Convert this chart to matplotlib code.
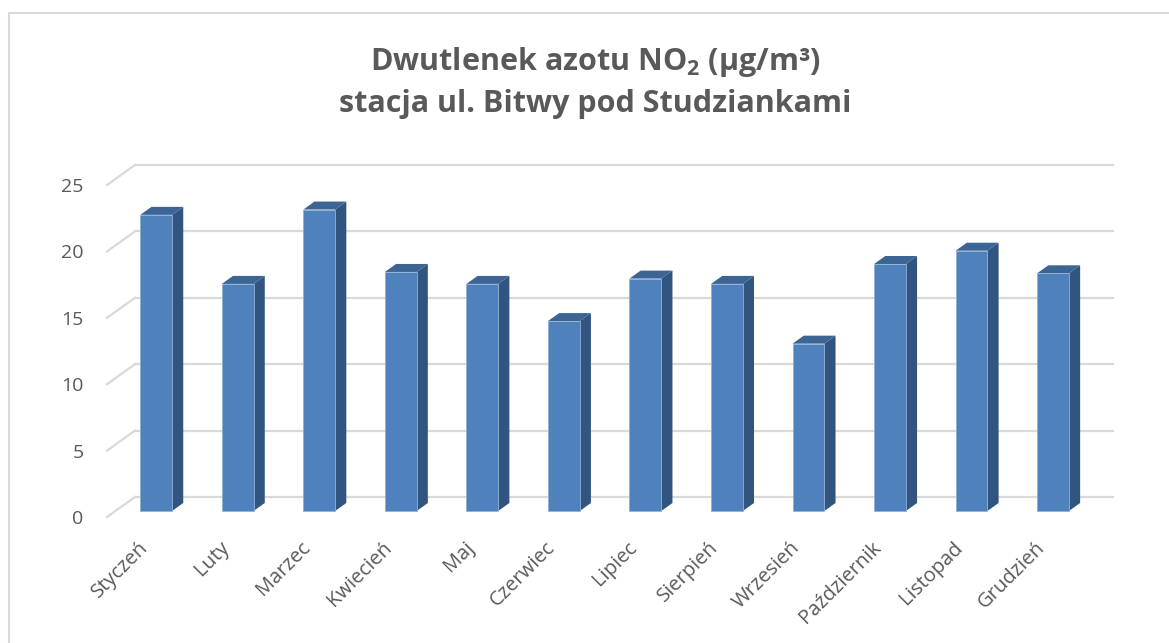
import matplotlib.pyplot as plt
from matplotlib.patches import Polygon, Rectangle

plt.rcParams['font.family'] = ['Open Sans', 'DejaVu Sans']
plt.rcParams['mathtext.fontset'] = 'custom'
plt.rcParams['mathtext.rm'] = 'Open Sans'
plt.rcParams['mathtext.bf'] = 'Open Sans:bold'

months = ['Styczeń', 'Luty', 'Marzec', 'Kwiecień', 'Maj', 'Czerwiec',
          'Lipiec', 'Sierpień', 'Wrzesień', 'Październik', 'Listopad', 'Grudzień']
no2 = [22.3, 17.1, 22.7, 18.0, 17.1, 14.3, 17.5, 17.1, 12.6, 18.6, 19.6, 17.9]
yticks = [0, 5, 10, 15, 20, 25]

text_col = '#595959'
grid_col = '#d9d9d9'
front_col = '#4f81bd'
side_col = '#32557f'
top_col = '#3c6595'

# fake 3d: floor depth vector (front -> back) in data units
depth_x, depth_y = 0.343, 1.506
bar_start = 0.3   # bar front face at 30% of the depth
bar_depth = 0.4
bar_w = 0.39

fig = plt.figure(figsize=(11.69, 6.43), dpi=100)
ax = fig.add_axes([107 / 1169, 126 / 643, 1019.2 / 1169, 28 * 13.28 / 643])
ax.set_xlim(-0.5, 12.0)
ax.set_ylim(0, 28)

# chart border
fig.patches.append(Rectangle((9 / 1169, -0.1), 1.2, (643 - 13) / 643 + 0.1,
                             transform=fig.transFigure, fill=False,
                             edgecolor='#d9d9d9', linewidth=1.5))

n = len(months)
x0, x1 = -0.5, n - 0.5
for v in yticks:
    # back wall line
    ax.plot([x0 + depth_x, x1 + depth_x], [v + depth_y, v + depth_y],
            color=grid_col, lw=1.6, clip_on=False, zorder=1)
    # left wall diagonal
    ax.plot([x0, x0 + depth_x], [v, v + depth_y],
            color=grid_col, lw=1.6, clip_on=False, zorder=1)

fx = bar_start * depth_x
fy = bar_start * depth_y
bx = bar_depth * depth_x
by = bar_depth * depth_y
for i, val in enumerate(no2):
    left = i - bar_w / 2 + fx
    right = left + bar_w
    side = Polygon([(right, fy), (right + bx, fy + by),
                    (right + bx, val + fy + by), (right, val + fy)],
                   closed=True, facecolor=side_col, edgecolor='none',
                   clip_on=False, zorder=2)
    top = Polygon([(left, val + fy), (left + bx, val + fy + by),
                   (right + bx, val + fy + by), (right, val + fy)],
                  closed=True, facecolor=top_col, edgecolor='none',
                  clip_on=False, zorder=2)
    ax.add_patch(side)
    ax.add_patch(top)

ax.bar([i + fx for i in range(n)], no2, width=bar_w, bottom=fy,
       color=front_col, edgecolor='#8fb0d8', linewidth=0.6,
       clip_on=False, zorder=3)

for s in ax.spines.values():
    s.set_visible(False)
ax.set_yticks(yticks)
ax.set_yticklabels([str(t) for t in yticks])
ax.tick_params(axis='y', length=0, pad=17, labelsize=14, labelcolor=text_col)
ax.set_xticks([i + 0.05 for i in range(n)])
ax.set_xticklabels(months, rotation=45, ha='right')
ax.tick_params(axis='x', length=0, pad=15, labelsize=14.5, labelcolor=text_col)

fig.text(0.509, 1 - 62 / 643, r'Dwutlenek azotu NO$_\mathbf{2}$ (µg/m³)', ha='center',
         va='center', fontsize=22, fontweight='bold', color=text_col)
fig.text(0.509, 1 - 104 / 643, 'stacja ul. Bitwy pod Studziankami', ha='center',
         va='center', fontsize=22, fontweight='bold', color=text_col)

fig.savefig('out.png', dpi=100)
